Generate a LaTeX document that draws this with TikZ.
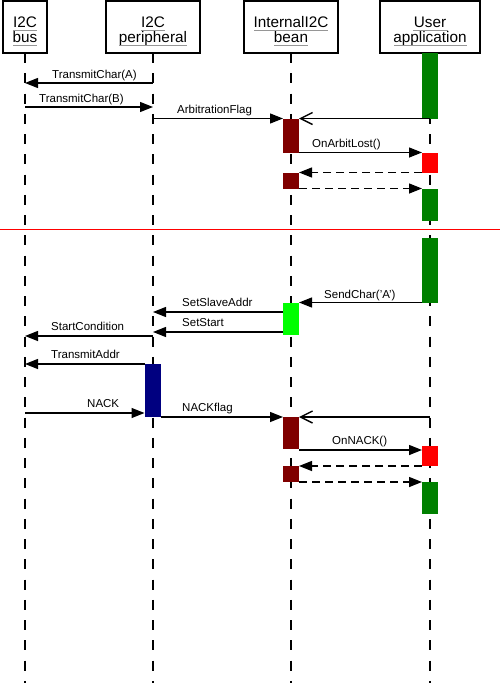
\documentclass[tikz,border=0pt]{standalone}
\usepackage{fontspec}
\setmainfont{Liberation Sans}
\usetikzlibrary{arrows.meta}
\definecolor{ulgray}{RGB}{150,150,150}
\definecolor{actdark}{RGB}{128,0,0}
\definecolor{actred}{RGB}{255,0,0}
\definecolor{actgreen}{RGB}{0,128,0}
\definecolor{actlime}{RGB}{0,255,0}
\definecolor{actblue}{RGB}{0,0,128}
\begin{document}
\begin{tikzpicture}[x=1pt,y=-1pt,
  headbox/.style={draw, line width=1.3pt, inner sep=0pt, outer sep=0pt, minimum height=52pt},
  ttl/.style={font=\fontsize{15.3}{15}\selectfont, anchor=base, inner sep=0pt, outer sep=0pt},
  ulnode/.style={fill=ulgray, draw=none, inner sep=0pt, outer sep=0pt, minimum height=1.4pt},
  lbl/.style={font=\fontsize{11.5}{12}\selectfont, anchor=base west, inner sep=0pt},
  lifeline/.style={line width=1.5pt, dash pattern=on 10pt off 10.25pt},
  act/.style={inner sep=0pt, outer sep=0pt, minimum width=16pt, draw=none},
  msg/.style={line width=1.4pt, -{Triangle[length=13pt,width=10pt]}},
  ret/.style={msg, dash pattern=on 8pt off 5pt},
  async/.style={line width=1.4pt, -{Straight Barb[length=12pt,width=12pt]}},
  sepnode/.style={fill=actred, draw=none, inner sep=0pt, outer sep=0pt, minimum width=500pt, minimum height=1.4pt}
]
\useasboundingbox (0,0) rectangle (500,683);
% header boxes
\node[headbox, minimum width=44pt] (busBox) at (25,27) {};
\node[headbox, minimum width=94pt] (perBox) at (153,27) {};
\node[headbox, minimum width=94pt] (beanBox) at (291,27) {};
\node[headbox, minimum width=100pt] (appBox) at (430,27) {};
\node[ttl] (busT1) at (25,27) {I2C};
\node[ttl] (busT2) at (25,42) {bus};
\node[ttl] (perT1) at (153,27) {I2C};
\node[ttl] (perT2) at (153,42) {peripheral};
\node[ttl] (beanT1) at (291,27) {InternalI2C};
\node[ttl] (beanT2) at (291,42) {bean};
\node[ttl] (appT1) at (430,27) {User};
\node[ttl] (appT2) at (430,42) {application};
\node[ulnode, minimum width=23.5pt] (busU1) at (25,30.6) {};
\node[ulnode, minimum width=24.5pt] (busU2) at (25,45.6) {};
\node[ulnode, minimum width=23.5pt] (perU1) at (153,30.6) {};
\node[ulnode, minimum width=68pt] (perU2) at (153,45.6) {};
\node[ulnode, minimum width=74.5pt] (beanU1) at (291,30.6) {};
\node[ulnode, minimum width=34pt] (beanU2) at (291,45.6) {};
\node[ulnode, minimum width=35pt] (appU1) at (430,30.6) {};
\node[ulnode, minimum width=73pt] (appU2) at (430,45.6) {};
% lifelines
\coordinate (busEnd) at (25,683);
\coordinate (perEnd) at (153,683);
\coordinate (beanEnd) at (291,683);
\coordinate (appEnd) at (430,683);
\draw[lifeline] (busBox.south) -- (busEnd);
\draw[lifeline] (perBox.south) -- (perEnd);
\draw[lifeline] (beanBox.south) -- (beanEnd);
\draw[lifeline] (appBox.south) -- (appEnd);
% separator
\node[sepnode] (sep) at (250,229.5) {};
% activations
\node[act, fill=actgreen, minimum height=65.5pt] (g1) at (430,85.75) {};
\node[act, fill=actdark, minimum height=34pt] (d1) at (291,135.5) {};
\node[act, fill=actred, minimum height=20pt] (r1) at (430,162.5) {};
\node[act, fill=actdark, minimum height=16pt] (d2) at (291,180.5) {};
\node[act, fill=actgreen, minimum height=32pt] (g2) at (430,204.5) {};
\node[act, fill=actgreen, minimum height=65pt] (g3) at (430,270) {};
\node[act, fill=actlime, minimum height=32.5pt] (lime) at (291,318.75) {};
\node[act, fill=actblue, minimum height=53pt] (blue) at (152.5,390.5) {};
\node[act, fill=actdark, minimum height=32pt] (d3) at (291,433) {};
\node[act, fill=actred, minimum height=20pt] (r2) at (430,456) {};
\node[act, fill=actdark, minimum height=16pt] (d4) at (291,474) {};
\node[act, fill=actgreen, minimum height=32pt] (g4) at (430,498) {};
% messages
\coordinate (m1s) at (153,83); \coordinate (m1e) at (25,83);
\draw[msg] (m1s) -- (m1e);
\node[lbl] (l1) at (52,78) {TransmitChar(A)};
\coordinate (m2s) at (25,107); \coordinate (m2e) at (153,107);
\draw[msg] (m2s) -- (m2e);
\node[lbl] (l2) at (39,102) {TransmitChar(B)};
\coordinate (m3s) at (154,118.5);
\draw[msg] (m3s) -- (d1.north west);
\node[lbl] (l3) at (177,113) {ArbitrationFlag};
\coordinate (m4s) at (430,118.5);
\draw[async] (m4s) -- (d1.north east);
\draw[msg] (d1.south east) -- (r1.north west);
\node[lbl] (l5) at (312,147) {OnArbitLost()};
\draw[ret] (r1.south west) -- (d2.north east);
\draw[ret] (d2.south east) -- (g2.north west);
% second part
\draw[msg] (g3.south west) -- (lime.north east);
\node[lbl] (l8) at (324,298) {SendChar('A')};
\coordinate (m9e) at (153,312);
\draw[msg] (lime.west |- m9e) -- (m9e);
\node[lbl] (l9) at (182,306.5) {SetSlaveAddr};
\coordinate (m10e) at (153,332);
\draw[msg] (lime.west |- m10e) -- (m10e);
\node[lbl] (l10) at (182,326.5) {SetStart};
\coordinate (m11s) at (153,336); \coordinate (m11e) at (25,336);
\draw[msg] (m11s) -- (m11e);
\node[lbl] (l11) at (51,330.5) {StartCondition};
\coordinate (m12e) at (25,364);
\draw[msg] (blue.north west) -- (m12e);
\node[lbl] (l12) at (51,358.5) {TransmitAddr};
\coordinate (m13s) at (25,413);
\draw[msg] (m13s) -- (blue.west |- m13s);
\node[lbl] (l13) at (87,407.5) {NACK};
\draw[msg] (blue.south east) -- (d3.north west);
\node[lbl] (l14) at (182,411.5) {NACKflag};
\coordinate (m15s) at (430,417);
\draw[async] (m15s) -- (d3.north east);
\coordinate (m16e) at (422,450);
\draw[msg] (d3.east |- m16e) -- (m16e);
\node[lbl] (l16) at (332,444.5) {OnNACK()};
\draw[ret] (r2.south west) -- (d4.north east);
\draw[ret] (d4.south east) -- (g4.north west);
\end{tikzpicture}
\end{document}
